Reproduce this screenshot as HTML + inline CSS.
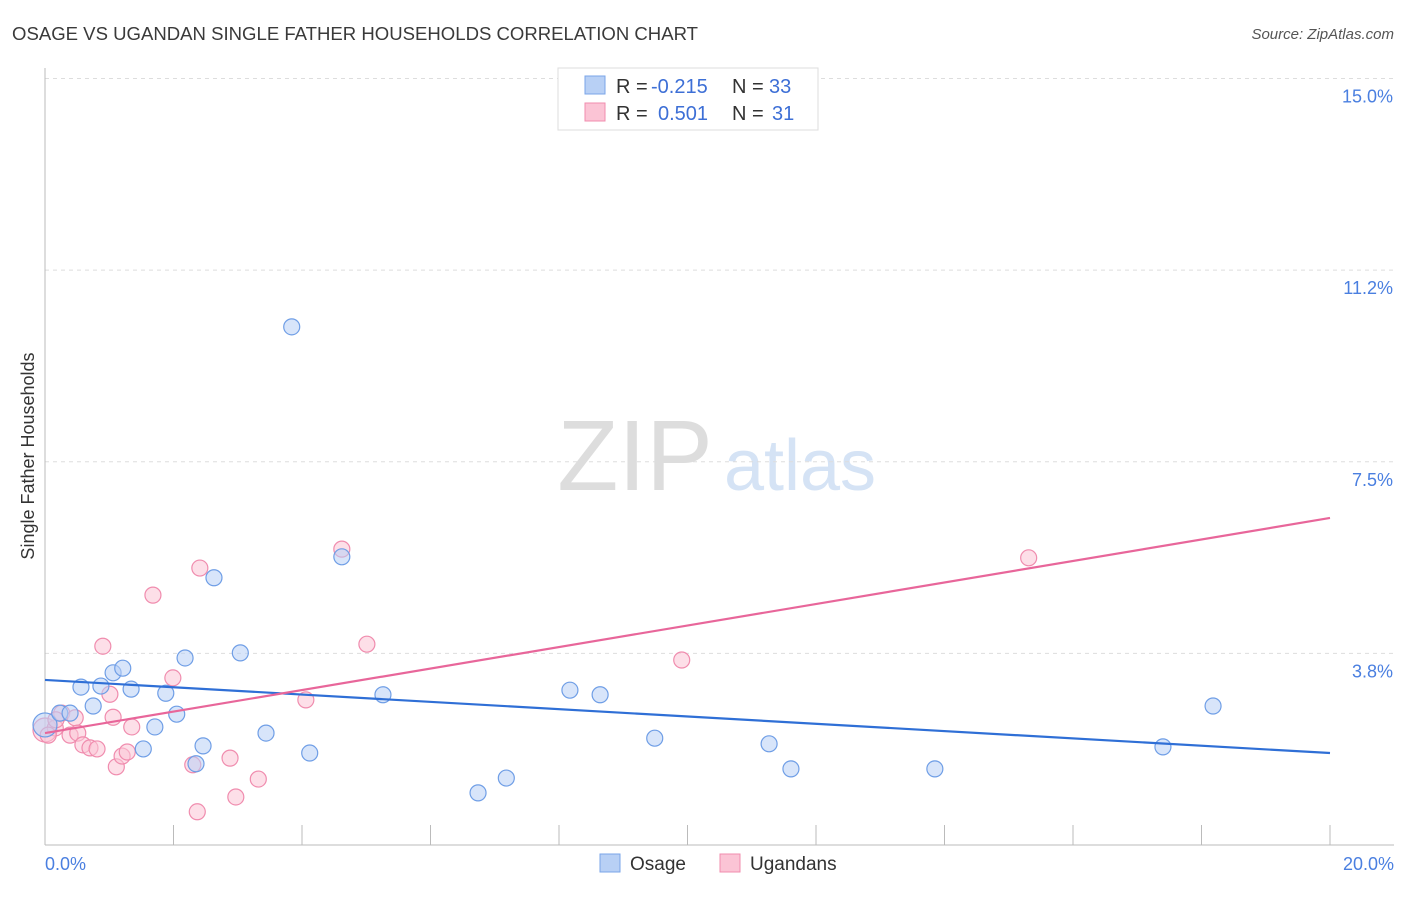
<!DOCTYPE html>
<html><head><meta charset="utf-8"><style>
body{margin:0;background:#fff;font-family:"Liberation Sans",sans-serif}
svg text{font-family:"Liberation Sans",sans-serif}
</style></head><body>
<svg id="c" width="1406" height="892">
<text x="12" y="40" font-size="18" fill="#3a3a3a" textLength="686" lengthAdjust="spacingAndGlyphs">OSAGE VS UGANDAN SINGLE FATHER HOUSEHOLDS CORRELATION CHART</text>
<text x="1394" y="39" font-size="15" fill="#555" text-anchor="end" font-style="italic">Source: ZipAtlas.com</text>
<text x="34" y="456" font-size="18" fill="#333" text-anchor="middle" transform="rotate(-90 34 456)">Single Father Households</text>
<g><text x="635" y="490" font-size="100" fill="#ddd" text-anchor="middle" font-family="Liberation Serif">ZIP</text><text x="800" y="490" font-size="72" fill="#d5e3f5" text-anchor="middle">atlas</text></g>
<g id="grid"></g><g id="axes"></g><g id="marks"></g>
<g>
<rect x="558" y="68" width="260" height="62" fill="#fff" stroke="#ddd"/>
<rect x="585" y="76" width="20" height="18" fill="#b8d0f5" stroke="#7aa5e8"/>
<rect x="585" y="103" width="20" height="18" fill="#fbc4d5" stroke="#f08cae"/>
<text y="93" font-size="20" fill="#333"><tspan x="616">R =</tspan><tspan x="651" fill="#3d6fd6">-0.215</tspan><tspan x="732">N =</tspan><tspan x="769" fill="#3d6fd6">33</tspan></text>
<text y="120" font-size="20" fill="#333"><tspan x="616">R =</tspan><tspan x="658" fill="#3d6fd6">0.501</tspan><tspan x="732">N =</tspan><tspan x="772" fill="#3d6fd6">31</tspan></text>
</g>
<g>
<rect x="600" y="854" width="20" height="18" fill="#b8d0f5" stroke="#7aa5e8"/><text x="630" y="870" font-size="19" fill="#333">Osage</text>
<rect x="720" y="854" width="20" height="18" fill="#fbc4d5" stroke="#f08cae"/><text x="750" y="870" font-size="19" fill="#333">Ugandans</text>
</g>
</svg>
<script>
const yTicks=[3.75,7.5,11.25,15];
const yTickLabels=["3.8%","7.5%","11.2%","15.0%"];
const xTickLabels=["0.0%","20.0%"];
const osageX=[0.00,0.23,0.39,0.56,0.75,0.87,1.06,1.21,1.34,1.53,1.71,1.88,2.05,2.18,2.35,2.46,2.63,3.04,3.44,3.84,4.12,4.62,5.26,6.74,7.18,8.17,8.64,9.49,11.27,11.61,13.85,17.40,18.18];
const osageY=[2.35,2.58,2.58,3.09,2.72,3.11,3.37,3.46,3.05,1.88,2.31,2.97,2.56,3.66,1.59,1.94,5.23,3.76,2.19,10.14,1.80,5.64,2.94,1.02,1.31,3.03,2.94,2.09,1.98,1.49,1.49,1.92,2.72];
const ugX=[0.00,0.16,0.26,0.39,0.47,0.51,0.59,0.70,0.81,0.90,1.01,1.06,1.11,1.20,1.28,1.35,1.68,1.99,2.30,2.37,2.41,2.88,2.97,3.32,4.06,4.62,5.01,9.91,15.31,0.17,0.05];
const ugY=[2.25,2.29,2.58,2.15,2.49,2.19,1.96,1.90,1.88,3.89,2.95,2.50,1.53,1.74,1.82,2.31,4.89,3.27,1.57,0.65,5.42,1.70,0.94,1.29,2.84,5.79,3.93,3.62,5.62,2.45,2.15];
const osageTrend=[3.23,1.80];
const ugTrend=[2.19,6.40];
const X=v=>45+v/20*1285, Y=v=>845-v*51.1;
const NS="http://www.w3.org/2000/svg";
function mk(t,a,p){const e=document.createElementNS(NS,t);for(const k in a)e.setAttribute(k,a[k]);p.appendChild(e);return e;}
const grid=document.getElementById('grid'),axes=document.getElementById('axes'),marks=document.getElementById('marks');
yTicks.forEach((t,i)=>{const l=mk('line',{x1:45,x2:1394,y1:Y(t),y2:Y(t),stroke:'#ddd','stroke-dasharray':'4,4'},grid);


const tx=mk('text',{x:1393,y:Y(t)+24,'font-size':18,fill:'#4a7fe0','text-anchor':'end'},axes);tx.textContent=yTickLabels[i];

});
const ax=mk('line',{x1:45,x2:45,y1:68,y2:845,stroke:'#bbb'},axes);


const bx=mk('line',{x1:45,x2:1394,y1:845,y2:845,stroke:'#bbb'},axes);


for(let i=0;i<=10;i++){const t=mk('line',{x1:X(i*2),x2:X(i*2),y1:825,y2:845,stroke:'#bbb'},axes);

}
[[0,'start',45],[20,'end',1394]].forEach((d,i)=>{const t=mk('text',{x:d[2],y:870,'font-size':18,fill:'#4a7fe0','text-anchor':d[1]},axes);t.textContent=xTickLabels[i];

});
function pts(xs,ys,fill,stroke,name){xs.forEach((x,i)=>{const c=mk('circle',{cx:X(x),cy:Y(ys[i]),r:(x===0?12:8),fill:fill,'fill-opacity':0.55,stroke:stroke,'stroke-width':1.2},marks);

});}
pts(ugX,ugY,'#fbc4d5','#f08cae','ugandans-point');
pts(osageX,osageY,'#b8d0f5','#6f9ee6','osage-point');
const l1=mk('line',{x1:X(0),x2:X(20),y1:Y(osageTrend[0]),y2:Y(osageTrend[1]),stroke:'#2f6fd6','stroke-width':2.2},marks);


const l2=mk('line',{x1:X(0),x2:X(20),y1:Y(ugTrend[0]),y2:Y(ugTrend[1]),stroke:'#e8669a','stroke-width':2.2},marks);


</script>
</body></html>
